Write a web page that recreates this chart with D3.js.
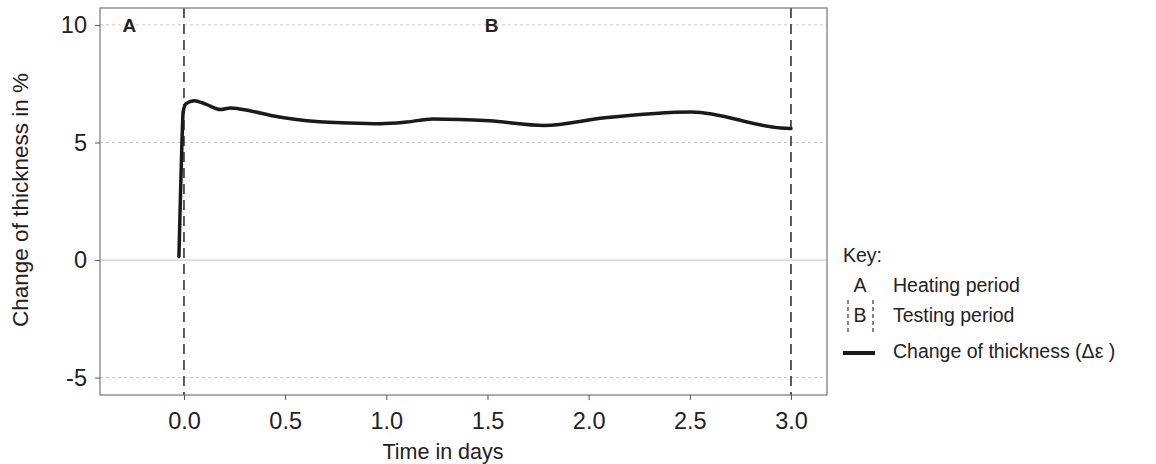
<!DOCTYPE html>
<meta charset="utf-8">
<style>

html, body {
  margin: 0;
  background: #fff;
}

svg {
  display: block;
  font-family: "Liberation Sans", Arial, sans-serif;
}

.grid line {
  stroke: #c8c8c8;
  stroke-width: 1px;
  stroke-dasharray: 3,3;
}

.zero-line {
  stroke: #cfcfcf;
  stroke-width: 1.2px;
}

.period line {
  stroke: #333;
  stroke-width: 1.6px;
  stroke-dasharray: 10,6;
}

.axis path, .axis line {
  stroke: #555;
}

.axis text {
  fill: #222;
}

.frame {
  fill: none;
  stroke: #777;
  stroke-width: 1.2px;
}

</style>
<svg class="chart"></svg>
<script src="https://d3js.org/d3.v7.min.js"></script>
<script>

var width = 1156;
var height = 464;

// time in days / change of thickness in %
var days = [-0.025, -0.018, -0.01, -0.004, 0.01, 0.05, 0.11, 0.18, 0.23, 0.33, 0.43,
  0.67, 0.81, 0.97, 1.10, 1.23, 1.51, 1.78, 2.08, 2.51, 2.95, 3.0];
var thickness = [0.15, 2.5, 5.0, 6.3, 6.65, 6.78, 6.62, 6.4, 6.47, 6.34, 6.15,
  5.88, 5.83, 5.8, 5.87, 6.0, 5.92, 5.72, 6.05, 6.3, 5.62, 5.6];

var xTicks = [0, 0.5, 1, 1.5, 2, 2.5, 3];
var yTicks = [-5, 0, 5, 10];
var gridValues = [-5, 5, 10];
var periodBounds = [0, 3];
var periodLabels = ['A', 'B'];
var periodLabelDays = [-0.27, 1.52];

var legendItems = ['Heating period', 'Testing period', 'Change of thickness (\u0394\u03b5 )'];

var plot = {left: 100, right: 827, top: 8, bottom: 395};

var x = d3.scaleLinear()
  .domain([-0.415, 3.178])
  .range([plot.left, plot.right]);

var y = d3.scaleLinear()
  .domain([-5.74, 10.72])
  .range([plot.bottom, plot.top]);

var svg = d3.select('svg.chart')
  .attr('width', width)
  .attr('height', height);

// grid
svg.append('g')
    .attr('class', 'grid')
  .selectAll('line')
  .data(gridValues)
  .enter().append('line')
    .attr('x1', plot.left)
    .attr('x2', plot.right)
    .attr('y1', function (d) { return y(d); })
    .attr('y2', function (d) { return y(d); });

svg.append('line')
  .attr('class', 'zero-line')
  .attr('x1', plot.left)
  .attr('x2', plot.right)
  .attr('y1', y(0))
  .attr('y2', y(0));

// period boundaries
svg.append('g')
    .attr('class', 'period')
  .selectAll('line')
  .data(periodBounds)
  .enter().append('line')
    .attr('x1', function (d) { return x(d); })
    .attr('x2', function (d) { return x(d); })
    .attr('y1', plot.top)
    .attr('y2', plot.bottom);

svg.append('g')
  .selectAll('text')
  .data(periodLabels)
  .enter().append('text')
    .attr('x', function (d, i) { return x(periodLabelDays[i]); })
    .attr('y', y(10))
    .attr('dy', '0.36em')
    .attr('text-anchor', 'middle')
    .style('font-size', '19px')
    .style('font-weight', 'bold')
    .style('fill', '#222')
    .text(function (d) { return d; });

// data line
var line = d3.line()
  .x(function (d) { return x(d[0]); })
  .y(function (d) { return y(d[1]); })
  .curve(d3.curveMonotoneX);

svg.append('path')
  .datum(d3.zip(days, thickness))
  .attr('fill', 'none')
  .attr('stroke', '#1a1a1a')
  .attr('stroke-width', 3.5)
  .attr('stroke-linejoin', 'round')
  .attr('stroke-linecap', 'round')
  .attr('d', line);

// frame + axes
svg.append('rect')
  .attr('class', 'frame')
  .attr('x', plot.left)
  .attr('y', plot.top)
  .attr('width', plot.right - plot.left)
  .attr('height', plot.bottom - plot.top);

svg.append('g')
    .attr('class', 'axis')
    .attr('transform', 'translate(0,' + plot.bottom + ')')
    .call(d3.axisBottom(x).tickValues(xTicks).tickFormat(d3.format('.1f')).tickSize(5).tickPadding(12).tickSizeOuter(0))
    .call(function (g) { g.select('.domain').remove(); })
    .selectAll('text')
    .style('font-size', '23.5px');

svg.append('g')
    .attr('class', 'axis')
    .attr('transform', 'translate(' + plot.left + ',0)')
    .call(d3.axisLeft(y).tickValues(yTicks).tickFormat(function (d) { return String(d); }).tickSize(5).tickPadding(8).tickSizeOuter(0))
    .call(function (g) { g.select('.domain').remove(); })
    .selectAll('text')
    .style('font-size', '23.5px');

svg.append('text')
  .attr('x', 443)
  .attr('y', 459)
  .attr('text-anchor', 'middle')
  .style('font-size', '21.5px')
  .style('fill', '#222')
  .text('Time in days');

svg.append('text')
  .attr('transform', 'translate(28,200) rotate(-90)')
  .attr('text-anchor', 'middle')
  .style('font-size', '22.5px')
  .style('fill', '#222')
  .text('Change of thickness in %');

// key
var legend = svg.append('g')
  .style('font-size', '19.5px')
  .style('fill', '#222');

legend.append('text')
  .attr('x', 843)
  .attr('y', 262)
  .text('Key:');

legend.selectAll('text.item')
  .data(legendItems)
  .enter().append('text')
    .attr('class', 'item')
    .attr('x', 893)
    .attr('y', function (d, i) { return 292 + i * 30 + (i === 2 ? 6 : 0); })
    .text(function (d) { return d; });

legend.selectAll('text.sym')
  .data(periodLabels)
  .enter().append('text')
    .attr('class', 'sym')
    .attr('x', 860)
    .attr('y', function (d, i) { return 292 + i * 30; })
    .attr('text-anchor', 'middle')
    .text(function (d) { return d; });

legend.selectAll('line.bound')
  .data([848, 873])
  .enter().append('line')
    .attr('class', 'bound')
    .attr('x1', function (d) { return d; })
    .attr('x2', function (d) { return d; })
    .attr('y1', 300)
    .attr('y2', 332)
    .attr('stroke', '#444')
    .attr('stroke-width', 1.3)
    .attr('stroke-dasharray', '4,3');

legend.append('line')
  .attr('x1', 843)
  .attr('x2', 875)
  .attr('y1', 353)
  .attr('y2', 353)
  .attr('stroke', '#1a1a1a')
  .attr('stroke-width', 4);

</script>
